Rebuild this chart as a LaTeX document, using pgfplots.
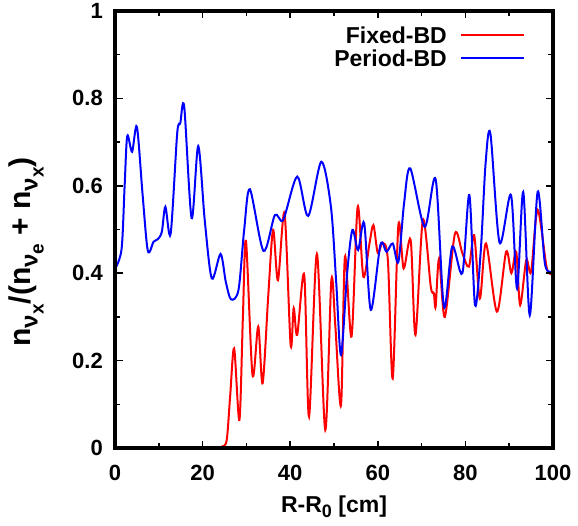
\documentclass[border=0pt]{standalone}
\usepackage{fontspec}
\setmainfont{Liberation Sans}
\usepackage{pgfplots}
\pgfplotsset{compat=1.18}
\newcommand{\fs}[1]{\fontsize{#1}{#1}\selectfont}
\newcommand{\nusub}[1]{\raisebox{-0.25em}{\fs{24}ν\raisebox{-0.25em}{\fs{19}#1}}}
\begin{document}
\begin{tikzpicture}
\begin{axis}[
  scale only axis, width=438pt, height=437pt,
  xmin=0, xmax=100, ymin=0, ymax=1,
  axis on top,
  xtick={0,20,40,60,80,100}, ytick={0,0.2,0.4,0.6,0.8,1},
  minor x tick num=1, minor y tick num=1,
  tick align=inside,
  major tick length=7.5pt, minor tick length=5pt,
  major tick style={black, line width=1.5pt},
  minor tick style={black, line width=1.5pt},
  axis line style={line width=3.5pt},
  /pgf/number format/assume math mode=true,
  tick label style={font=\fs{22}\bfseries},
  yticklabel style={/pgf/number format/fixed, /pgf/number format/precision=1, xshift=-8.7pt},
  xticklabel style={anchor=base, yshift=-32pt},
  xlabel={R-R\raisebox{-0.25em}{\fs{18}0} [cm]},
  xlabel style={font=\fs{23}\bfseries, at={(axis description cs:0.5,-0.1465)}, anchor=base},
  ylabel={n\nusub{x}/(n\nusub{e} + n\nusub{x})},
  ylabel style={font=\fs{30}\bfseries, at={(axis description cs:-0.194,0.449)}, anchor=base},
  legend style={draw=none, fill=none, at={(1,1)}, anchor=north east, xshift=-28pt, yshift=-15.7pt, font=\fs{23}\bfseries, row sep=5.6pt, column sep=11pt, inner sep=0pt,
    nodes={inner ysep=0pt, text height=17pt, text depth=0pt}},
  legend cell align=right, legend plot pos=right,
  legend image code/.code={\draw[#1] (0pt,0pt) -- (63pt,0pt);},
  clip=true,
]
\addplot[red, line width=2pt, smooth] coordinates {
(0,0) (23.5,0) (24.4,0.003) (25.5,0.018) (26.3,0.12) (27.2,0.228) (28.4,0.064)
(29.2,0.3) (29.9,0.474) (31.4,0.167) (32.7,0.278) (33.7,0.148) (35.0,0.35)
(36.1,0.499) (37.2,0.384) (38.7,0.537) (40.1,0.236) (40.8,0.32) (41.6,0.259)
(43.2,0.396) (44.3,0.072) (46.1,0.444) (48.0,0.041) (49.4,0.384) (50.3,0.28)
(51.6,0.098) (52.5,0.438) (54.0,0.255) (55.4,0.552) (56.7,0.392) (58.1,0.468)
(59.0,0.51) (60.0,0.446) (61.1,0.47) (62.3,0.43) (63.4,0.159) (64.7,0.51)
(65.9,0.411) (67.5,0.476) (68.6,0.259) (70.3,0.522) (72.1,0.369) (72.8,0.354)
(73.2,0.323) (74.0,0.434) (75.3,0.30) (77.6,0.49) (79.3,0.446) (80.8,0.415)
(82.0,0.487) (83.3,0.342) (84.7,0.468) (87.2,0.312) (89.3,0.449) (90.5,0.40)
(91.6,0.449) (92.5,0.327) (93.9,0.43) (95.0,0.403) (96.5,0.545) (98.6,0.411)
(100,0.40)
};
\addlegendentry{Fixed-BD}
\addplot[blue, line width=2pt, smooth] coordinates {
(0,0.41) (1.5,0.455) (2.2,0.60) (2.8,0.714) (3.9,0.678) (5.0,0.735) (6.3,0.58)
(7.5,0.451) (8.8,0.472) (9.8,0.478) (10.7,0.495) (11.5,0.552) (12.7,0.49)
(14.2,0.72) (14.9,0.743) (15.8,0.781) (17.5,0.526) (19.0,0.691) (20.5,0.52)
(22.1,0.388) (24.1,0.444) (25.3,0.38) (26.5,0.340) (28.2,0.362) (29.5,0.50)
(30.8,0.592) (33.9,0.451) (36.5,0.533) (38.4,0.522) (41.6,0.621) (44.1,0.531)
(47.1,0.655) (49.3,0.552) (50.5,0.38) (51.6,0.213) (53.0,0.40) (54.2,0.499)
(55.5,0.453) (56.9,0.514) (58.4,0.316) (60.6,0.465) (62.0,0.449) (63.4,0.468)
(64.7,0.426) (66.0,0.56) (67.4,0.64) (70.7,0.506) (73.2,0.615) (75.1,0.323)
(77.0,0.461) (79.3,0.40) (80.9,0.579) (82.2,0.327) (83.5,0.45) (84.6,0.65)
(85.7,0.72) (87.8,0.47) (90.4,0.579) (91.8,0.365) (93.2,0.586) (94.7,0.304)
(96.5,0.586) (98.2,0.419) (100,0.405)
};
\addlegendentry{Period-BD}
\coordinate (SW) at (rel axis cs:0,0);
\coordinate (NE) at (rel axis cs:1,1);
\end{axis}
\pgfresetboundingbox
\path ([shift={(-115pt,-77pt)}]SW) rectangle ([shift={(25pt,11pt)}]NE);
\end{tikzpicture}
\end{document}
